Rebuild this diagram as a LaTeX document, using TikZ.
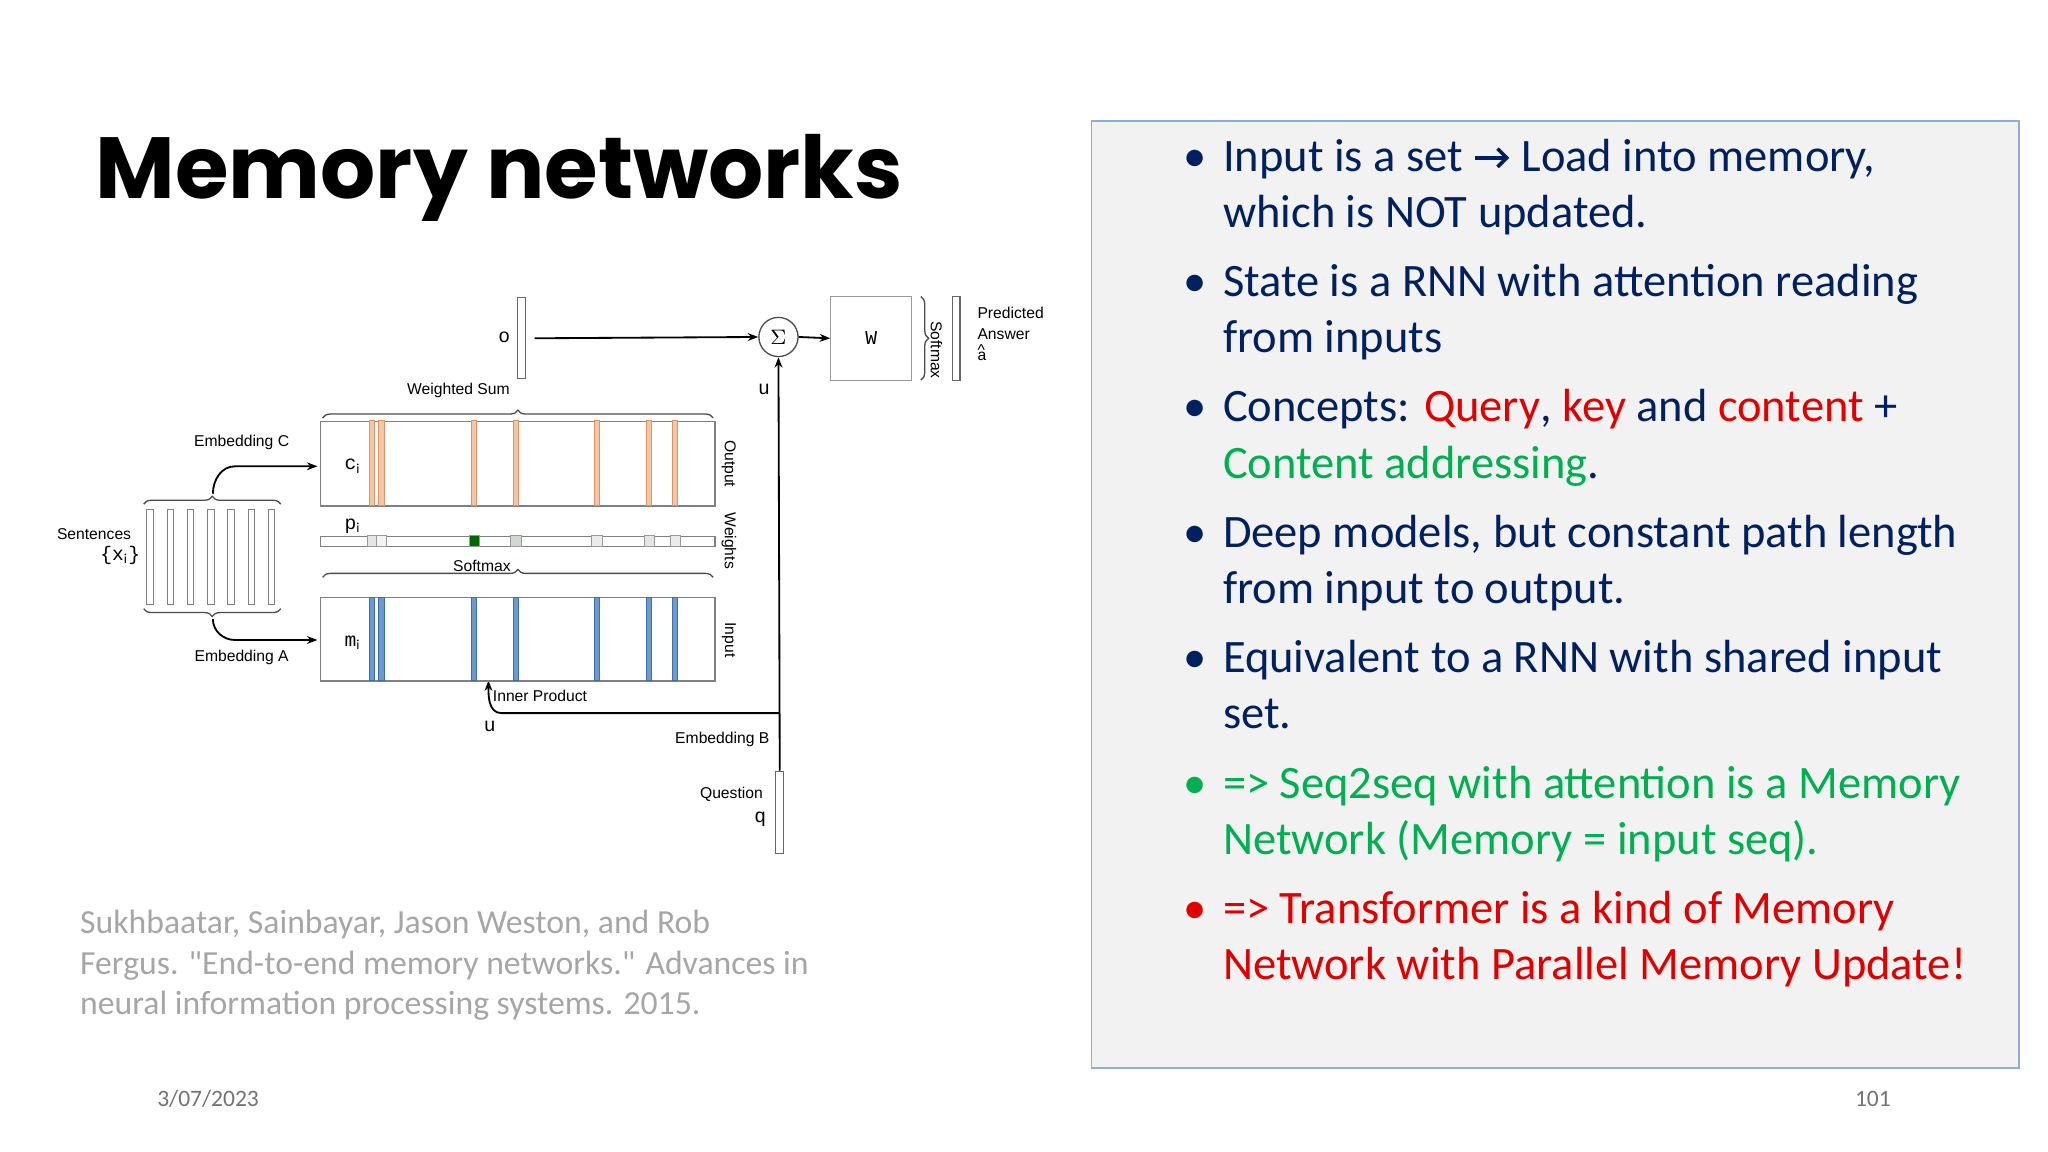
\documentclass[tikz,border=0pt]{standalone}
\usepackage{fontspec}
\setmainfont{Carlito}
\newfontfamily\titlefont{Poppins}
\newfontfamily\diag{Liberation Sans}
\newfontfamily\dmono{Liberation Mono}
\usetikzlibrary{decorations.pathreplacing,arrows.meta}
\definecolor{navy}{HTML}{002060}
\definecolor{rd}{HTML}{E00000}
\definecolor{gr}{HTML}{00B050}
\definecolor{gy}{HTML}{A6A6A6}
\definecolor{boxbg}{HTML}{F2F2F2}
\definecolor{boxbd}{HTML}{8FAADC}
\definecolor{org}{HTML}{F4C7A4}
\definecolor{orgd}{HTML}{D9946A}
\definecolor{blu}{HTML}{6A9AD0}
\definecolor{blud}{HTML}{3E6EA8}
\begin{document}
\begin{tikzpicture}[x=0.5pt,y=-0.5pt,
  bl/.style={anchor=base west,inner sep=0,font=\fontsize{17.8}{20}\selectfont,text=navy},
  dl/.style={inner sep=0,font=\diag\fontsize{6}{7}\selectfont},
  ml/.style={inner sep=0,font=\dmono\fontsize{7.5}{8}\selectfont},
  vec/.style={draw=black!60,line width=0.4pt,fill=white},
  ln/.style={line width=0.7pt},
  ar/.style={ln,-{Stealth[length=4pt]}},
  br/.style={decorate,decoration={brace,amplitude=3pt},line width=0.5pt,draw=black!70}]
\useasboundingbox (0,0) rectangle (1568,882);
\fill[white] (0,0) rectangle (1568,882);
\node[anchor=base west,inner sep=0,font=\titlefont\bfseries\fontsize{33.2}{36}\selectfont] (title) at (73,152) {Memory networks};
\node[draw=boxbd,fill=boxbg,line width=0.6pt,minimum width=355pt,minimum height=362.5pt,anchor=north west,inner sep=0] (panel) at (835,92) {};
\foreach \y/\c in {131/navy,227/navy,323/navy,419/navy,515/navy,611/gr,707/rd}
  \node[bl,text=\c] at (906,\y) {•};
\node[bl] at (936,131) {Input is a set \tikz[baseline=-0.6ex]\draw[navy,line width=1.4pt,-{Straight Barb[length=3.5pt,width=7pt]}] (0,0)--(13pt,0); Load into memory,};
\node[bl] at (936,174) {which is NOT updated.};
\node[bl] at (936,227) {State is a RNN with attention reading};
\node[bl] at (936,270) {from inputs};
\node[bl] at (936,323) {Concepts: \textcolor{rd}{Query}, \textcolor{rd}{key} and \textcolor{rd}{content} +};
\node[bl,text=gr] at (936,366) {Content addressing\textcolor{navy}{.}};
\node[bl] at (936,419) {Deep models, but constant path length};
\node[bl] at (936,462) {from input to output.};
\node[bl] at (936,515) {Equivalent to a RNN with shared input};
\node[bl] at (936,558) {set.};
\node[bl,text=gr] at (936,611) {=> Seq2seq with attention is a Memory};
\node[bl,text=gr] at (936,654) {Network (Memory = input seq).};
\node[bl,text=rd] at (936,707) {=> Transformer is a kind of Memory};
\node[bl,text=rd] at (936,750) {Network with Parallel Memory Update!};
\node[anchor=base west,inner sep=0,text=gy,font=\fontsize{12.9}{15.5}\selectfont] (cite) at (61,715) {Sukhbaatar, Sainbayar, Jason Weston, and Rob};
\node[anchor=base west,inner sep=0,text=gy,font=\fontsize{12.9}{15.5}\selectfont] (cite2) at (61,746) {Fergus. \textquotedbl End-to-end memory networks.\textquotedbl{} Advances in};
\node[anchor=base west,inner sep=0,text=gy,font=\fontsize{12.9}{15.5}\selectfont] (cite3) at (61,777) {neural information processing systems. 2015.};
\node[anchor=base west,inner sep=0,text=black!55,font=\fontsize{9}{10}\selectfont] (date) at (120,847) {3/07/2023};
\node[anchor=base east,inner sep=0,text=black!55,font=\fontsize{9}{10}\selectfont] (pg) at (1448,847) {101};
% ---------- diagram ----------
\node[vec,minimum width=3pt,minimum height=31pt,inner sep=0] (o) at (399,259) {};
\node[ml] (ol) at (386,258) {o};
\node[draw=black!70,circle,minimum size=15pt,inner sep=0,line width=0.5pt,font=\fontsize{8}{8}\selectfont] (sig) at (596,258) {$\Sigma$};
\node[draw=black!40,minimum width=31pt,minimum height=32pt,inner sep=0,line width=0.4pt,ml] (W) at (667,259) {W};
\draw[ar] (o.east) ++(7,0) coordinate (oe) -- (sig.west);
\draw[ar] (sig.east) -- (W.west);
\draw[br] (705,227) -- (705,291);
\node[dl,rotate=-90] (smx) at (717,268) {Softmax};
\node[vec,minimum width=3pt,minimum height=32pt,inner sep=0] (ans) at (732,259) {};
\node[dl,anchor=north west,align=left] (pa) at (748,235) {Predicted\\[1pt]Answer\\[-1pt]\^{}\\[-5pt]a};
\node[vec,minimum width=3pt,minimum height=31.5pt,inner sep=0] (q) at (597,622) {};
\node[dl] (ql) at (560,608) {Question};
\node[ml] (qq) at (582,627) {q};
\node[dl] (eb) at (553,566) {Embedding B};
\draw[ar] (q.north) -- (sig.south);
\node[ml] (u1) at (585,298) {u};
\coordinate (junc) at (597,546);
\coordinate (ipt) at (374,521);
\draw[ln,-{Stealth[length=4pt]}] (junc) -- (384,546) to[out=180,in=270] (ipt);
\node[dl,anchor=west] (ip) at (377,533) {Inner Product};
\node[ml] (u2) at (375,556) {u};
\node[draw=black!50,fill=white,minimum width=151pt,minimum height=32.5pt,inner sep=0,anchor=north west] (C) at (245,322) {};
\foreach \x in {285,292,363,395,457,497,517}
  \draw[fill=org,draw=orgd,line width=0.3pt] (\x-2,322) rectangle (\x+2,387);
\node[ml] (ci) at (270,357) {c$_{\mathrm{i}}$};
\node[draw=black!50,fill=white,minimum width=151pt,minimum height=4pt,inner sep=0,anchor=north west] (P) at (245,410) {};
\foreach \x/\c in {285/black!10,292/black!5,363/green!40!black,395/green!30!black!20,457/black!8,497/black!10,517/black!8}
  \draw[fill=\c,draw=black!40,line width=0.3pt] (\x-4,410) rectangle (\x+4,418);
\node[ml] (pi) at (270,403) {p$_{\mathrm{i}}$};
\node[draw=black!50,fill=white,minimum width=151pt,minimum height=32pt,inner sep=0,anchor=north west] (M) at (245,457) {};
\foreach \x in {285,292,363,395,457,497,517}
  \draw[fill=blu,draw=blud,line width=0.3pt] (\x-2,457) rectangle (\x+2,521);
\node[ml] (mi) at (270,492) {m$_{\mathrm{i}}$};
\draw[br] (247,320) -- (546,320);
\node[dl] (ws) at (351,299) {Weighted Sum};
\draw[br] (247,442) -- (546,442);
\node[dl] (sm2) at (369,433) {Softmax};
\node[dl,rotate=-90] (out) at (558,355) {Output};
\node[dl,rotate=-90] (wts) at (558,414) {Weights};
\node[dl,rotate=-90] (inp) at (558,490) {Input};
\foreach \i in {0,...,6}
  \draw[draw=black!50,line width=0.4pt] (115+\i*15.5-2.5,390) rectangle (115+\i*15.5+2.5,463);
\node[dl] (sen) at (72,409) {Sentences};
\node[ml] (xi) at (92,425) {\{x$_{\mathrm{i}}$\}};
\draw[br] (110,386) -- (215,386);
\draw[br] (215,466) -- (110,466);
\draw[ar] (163,378) to[out=90,in=180] (180,357) -- (243,357);
\draw[ar] (163,474) to[out=270,in=180] (180,490) -- (243,490);
\node[dl] (ec) at (185,339) {Embedding C};
\node[dl] (ea) at (185,503) {Embedding A};
\end{tikzpicture}
\end{document}
